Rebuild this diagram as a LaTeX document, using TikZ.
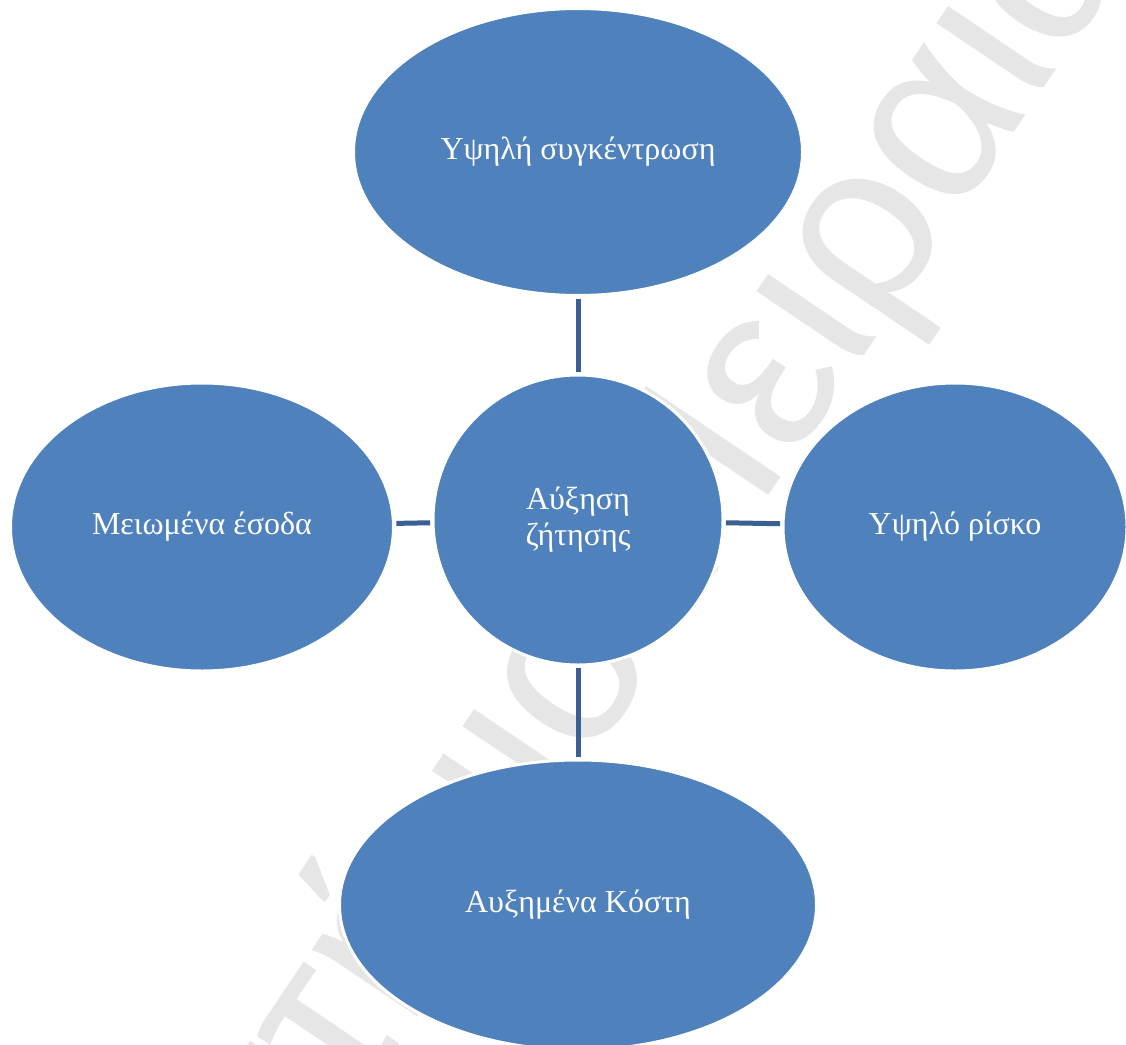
\documentclass[tikz,border=0pt]{standalone}
\usepackage{fontspec}
\setmainfont{Liberation Serif}
\newfontfamily\wmfont{Liberation Sans}
\usetikzlibrary{shapes.geometric}
\definecolor{bubblefill}{RGB}{79,129,189}
\definecolor{linkblue}{RGB}{58,95,145}
\definecolor{wmgray}{RGB}{230,230,230}

\begin{document}
\begin{tikzpicture}[x=1pt,y=-1pt,
  bubble/.style={ellipse, fill=bubblefill, draw=white, line width=3pt,
    text=white, font=\fontsize{32}{36}\selectfont, inner sep=0pt, align=center},
  link/.style={draw=linkblue, line width=5pt, shorten >=1.5pt, shorten <=1.5pt},
  watermark/.style={font=\wmfont\fontsize{236}{236}\selectfont, text=wmgray,
    rotate=56, anchor=base, inner sep=0pt}]
\useasboundingbox (0,0) rectangle (1126,1044);
\clip (0,0) rectangle (1126,1044);
\fill[white] (0,0) rectangle (1126,1044);

% background watermark
\node[watermark] (wmark) at (866,352) {\llap{Πανεπιστήμιο Πε}ι\rlap{ραιώς}};

% bubbles
\node[bubble, minimum width=290pt, minimum height=290pt] (hub) at (578,520) {Αύξηση\\ζήτησης};
\node[bubble, minimum width=449pt, minimum height=287pt] (top) at (578,152) {Υψηλή συγκέντρωση};
\node[bubble, minimum width=383pt, minimum height=288pt] (left) at (202,527) {Μειωμένα έσοδα};
\node[bubble, minimum width=344pt, minimum height=288pt] (right) at (955,527) {Υψηλό ρίσκο};
\node[bubble, minimum width=477pt, minimum height=290pt] (bottom) at (578,905) {Αυξημένα Κόστη};

% connectors
\draw[link] (hub) -- (top);
\draw[link] (hub) -- (left);
\draw[link] (hub) -- (right);
\draw[link] (hub) -- (bottom);
\end{tikzpicture}
\end{document}
